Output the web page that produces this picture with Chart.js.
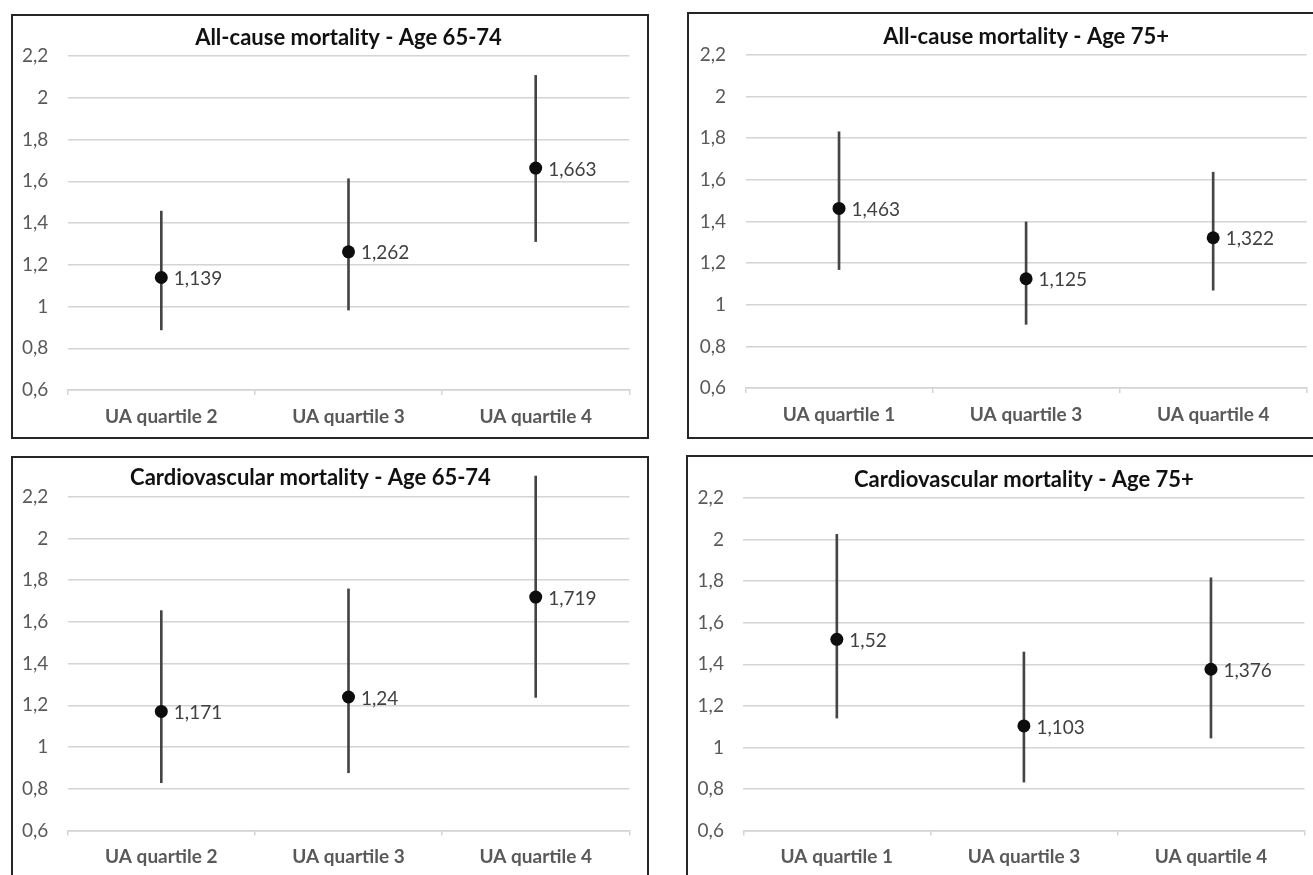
<!DOCTYPE html>
<html>
<head>
<meta charset="utf-8">
<script src="https://cdn.jsdelivr.net/npm/chart.js@4.4.1/dist/chart.umd.min.js"></script>
<style>
  html, body { margin: 0; padding: 0; background: #fff; }
  body { width: 1313px; height: 875px; overflow: hidden; position: relative; }
  .panel { position: absolute; box-sizing: border-box; border: 2px solid #262626; background: #fff; }
  .panel canvas { position: absolute; left: 0; top: 0; }
</style>
</head>
<body>
<div class="panel" id="p1"><canvas id="c1"></canvas></div>
<div class="panel" id="p2"><canvas id="c2"></canvas></div>
<div class="panel" id="p3"><canvas id="c3"></canvas></div>
<div class="panel" id="p4"><canvas id="c4"></canvas></div>
<script>
// data
const catsYoung = ['UA quartile 2', 'UA quartile 3', 'UA quartile 4'];
const catsOld = ['UA quartile 1', 'UA quartile 3', 'UA quartile 4'];

const allYoungEst = [1.139, 1.262, 1.663];
const allYoungLow = [0.888, 0.983, 1.311];
const allYoungHigh = [1.457, 1.612, 2.107];

const allOldEst = [1.463, 1.125, 1.322];
const allOldLow = [1.169, 0.906, 1.070];
const allOldHigh = [1.831, 1.398, 1.637];

const cvYoungEst = [1.171, 1.24, 1.719];
const cvYoungLow = [0.829, 0.877, 1.238];
const cvYoungHigh = [1.654, 1.758, 2.299];

const cvOldEst = [1.52, 1.103, 1.376];
const cvOldLow = [1.141, 0.833, 1.045];
const cvOldHigh = [2.025, 1.459, 1.816];

const yMin = 0.6, yMax = 2.2, yStep = 0.2;

// page layout (box = panel border box, plot = wanted chart area, page px)
const panels = [
  { id: 1, title: 'All-cause mortality - Age 65-74', cats: catsYoung, est: allYoungEst, lo: allYoungLow, hi: allYoungHigh,
    box: { x: 11, y: 14, w: 638, h: 425 }, plot: { l: 67.7, t: 56, r: 629.3, b: 390 }, titleShift: 0 },
  { id: 2, title: 'All-cause mortality - Age 75+', cats: catsOld, est: allOldEst, lo: allOldLow, hi: allOldHigh,
    box: { x: 687, y: 12, w: 640, h: 427 }, plot: { l: 745.5, t: 55, r: 1306.7, b: 388 }, titleShift: 0 },
  { id: 3, title: 'Cardiovascular mortality - Age 65-74', cats: catsYoung, est: cvYoungEst, lo: cvYoungLow, hi: cvYoungHigh,
    box: { x: 11, y: 456, w: 638, h: 440 }, plot: { l: 67.7, t: 496.7, r: 629.3, b: 830.5 }, titleShift: -38 },
  { id: 4, title: 'Cardiovascular mortality - Age 75+', cats: catsOld, est: cvOldEst, lo: cvOldLow, hi: cvOldHigh,
    box: { x: 686, y: 455, w: 640, h: 440 }, plot: { l: 743.3, t: 498, r: 1304.5, b: 830.5 }, titleShift: 0 }
];

const BORDER = 2;
const FONT = 'Lato';
const comma = v => String(+(+v).toFixed(3)).replace('.', ',');

// value labels right of the dots
const valueLabels = {
  id: 'valueLabels',
  afterDatasetsDraw(chart) {
    const meta = chart.getDatasetMeta(1);
    const data = chart.data.datasets[1].data;
    const ctx = chart.ctx;
    ctx.save();
    ctx.font = '19px ' + FONT;
    ctx.fillStyle = '#404040';
    ctx.textAlign = 'left';
    ctx.textBaseline = 'middle';
    meta.data.forEach((pt, i) => {
      ctx.fillText(comma(data[i]), pt.x + 12.5, pt.y + 1.5);
    });
    ctx.restore();
  }
};

// chart title, centred over the plot (panel 3 sits a bit to the left in the original)
const panelTitle = {
  id: 'panelTitle',
  afterDraw(chart, args, opts) {
    const a = chart.chartArea;
    const ctx = chart.ctx;
    ctx.save();
    ctx.font = 'bold 22px ' + FONT;
    ctx.fillStyle = '#111';
    ctx.textAlign = 'center';
    ctx.textBaseline = 'middle';
    ctx.fillText(opts.text, (a.left + a.right) / 2 + opts.shift, a.top - 18.3);
    ctx.restore();
  }
};

function makeChart(p) {
  const div = document.getElementById('p' + p.id);
  div.style.left = p.box.x + 'px';
  div.style.top = p.box.y + 'px';
  div.style.width = p.box.w + 'px';
  div.style.height = p.box.h + 'px';

  const cw = p.box.w - 2 * BORDER, ch = p.box.h - 2 * BORDER;
  const ox = p.box.x + BORDER, oy = p.box.y + BORDER;
  const canvas = document.getElementById('c' + p.id);
  canvas.width = cw; canvas.height = ch;
  canvas.style.width = cw + 'px'; canvas.style.height = ch + 'px';

  const left = p.plot.l - ox, right = p.plot.r - ox;
  const top = p.plot.t - oy, bottom = p.plot.b - oy;

  new Chart(canvas, {
    data: {
      labels: p.cats,
      datasets: [
        {
          type: 'bar',
          data: p.lo.map((v, i) => [v, p.hi[i]]),
          backgroundColor: '#454545',
          borderWidth: 0,
          barThickness: 2,
          clip: false,
          order: 1
        },
        {
          type: 'line',
          data: p.est,
          showLine: false,
          pointRadius: 6.5,
          pointHoverRadius: 6.5,
          pointBackgroundColor: '#0d0d0d',
          pointBorderWidth: 0,
          clip: false,
          order: 0
        }
      ]
    },
    options: {
      responsive: false,
      animation: false,
      devicePixelRatio: 1,
      layout: { padding: { left: 0, right: cw - right, top: top, bottom: 0 } },
      plugins: {
        legend: { display: false },
        tooltip: { enabled: false },
        title: { display: false },
        panelTitle: { text: p.title, shift: p.titleShift }
      },
      scales: {
        x: {
          offset: true,
          grid: { offset: true, drawOnChartArea: false, drawTicks: true, tickLength: 5, color: '#d4d4d4', lineWidth: 1.5 },
          border: { display: true, color: '#d4d4d4', width: 1.5 },
          ticks: { color: '#595959', padding: 10, font: { family: FONT, size: 19, weight: 'bold' } },
          afterFit(s) { s.height = ch - bottom; }
        },
        y: {
          min: yMin,
          max: yMax,
          grid: { drawTicks: false, color: '#d4d4d4', lineWidth: 1.5 },
          border: { display: false },
          ticks: {
            stepSize: yStep,
            padding: 19.4,
            color: '#595959',
            font: { family: FONT, size: 19 },
            callback: v => comma(+v.toFixed(1))
          },
          afterFit(s) { s.width = left; }
        }
      }
    },
    plugins: [valueLabels, panelTitle]
  });
}

panels.forEach(makeChart);
</script>
</body>
</html>
